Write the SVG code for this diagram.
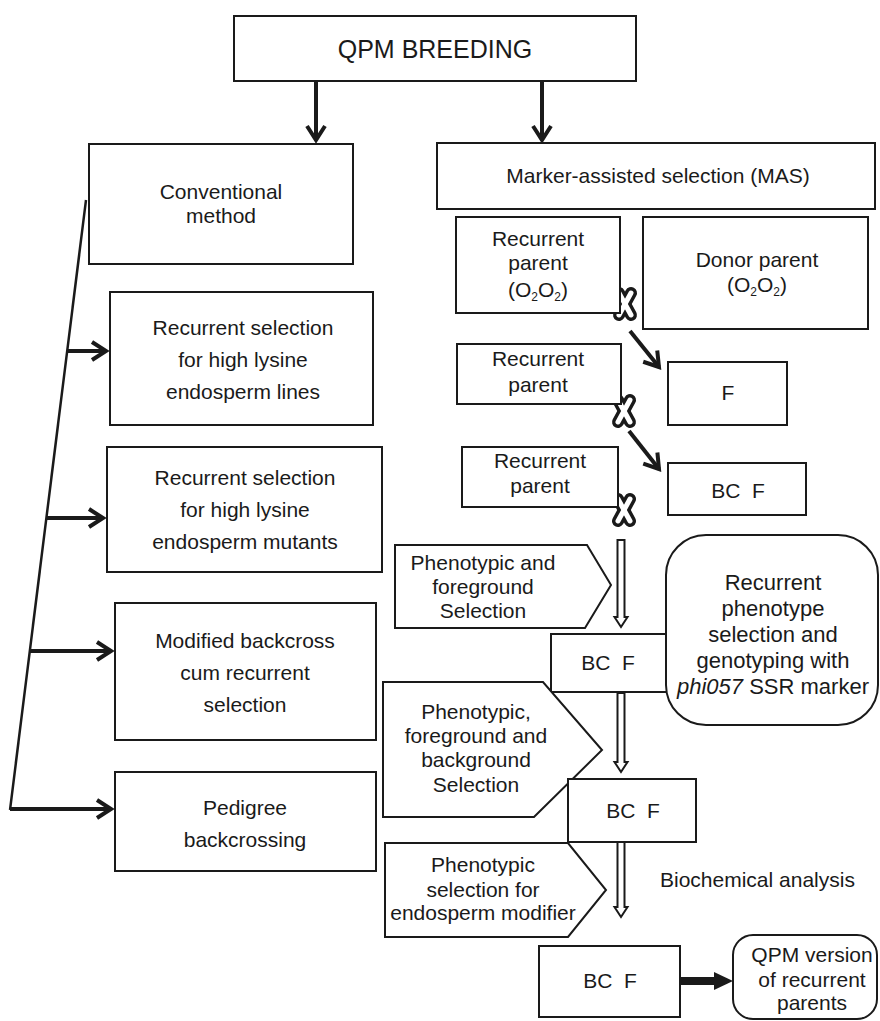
<svg xmlns="http://www.w3.org/2000/svg" width="880" height="1021" viewBox="0 0 880 1021">
<style>
.box{fill:#fff;stroke:#1a1a1a;stroke-width:2}
.t{font-family:"Liberation Sans",Arial,sans-serif;font-size:21px;fill:#1a1a1a;text-anchor:middle}
.sub{font-size:12px}
.arr{stroke:#1a1a1a;stroke-width:4;fill:none}
.thin{stroke:#1a1a1a;stroke-width:2.5;fill:none}
.hollow{fill:#fff;stroke:#1a1a1a;stroke-width:2}
.xo{stroke:#1a1a1a;stroke-width:12;stroke-linecap:round}
.xi{stroke:#fff;stroke-width:5;stroke-linecap:round}
</style>
<defs>
<marker id="chev" markerUnits="userSpaceOnUse" markerWidth="40" markerHeight="40" viewBox="-20 -20 40 40" refX="0" refY="0" orient="auto">
<path d="M-14,-9 L0,0 L-14,9" fill="none" stroke="#1a1a1a" stroke-width="4"/>
</marker>
<g id="cross">
<line class="xo" x1="-6" y1="-11" x2="6" y2="11"/>
<line class="xo" x1="6" y1="-11" x2="-6" y2="11"/>
<line class="xi" x1="-6" y1="-11" x2="6" y2="11"/>
<line class="xi" x1="6" y1="-11" x2="-6" y2="11"/>
</g>
</defs>
<rect width="880" height="1021" fill="#fff"/>

<g id="connectors">
<line class="arr" x1="316" y1="81" x2="316" y2="140" marker-end="url(#chev)"/>
<line class="arr" x1="542" y1="81" x2="542" y2="140" marker-end="url(#chev)"/>
<line class="thin" x1="86" y1="200" x2="10" y2="810"/>
<line class="arr" x1="67" y1="351" x2="106" y2="351" marker-end="url(#chev)"/>
<line class="arr" x1="46" y1="518" x2="103" y2="518" marker-end="url(#chev)"/>
<line class="arr" x1="29" y1="651" x2="111" y2="651" marker-end="url(#chev)"/>
<line class="arr" x1="10" y1="809" x2="111" y2="809" marker-end="url(#chev)"/>
<line class="arr" x1="630" y1="331" x2="659" y2="367" marker-end="url(#chev)"/>
<line class="arr" x1="629" y1="431" x2="659" y2="469" marker-end="url(#chev)"/>
<use href="#cross" x="625" y="304"/>
<use href="#cross" x="624" y="411"/>
<use href="#cross" x="624" y="510"/>
<path class="hollow" d="M617.5,540 L624.5,540 L624.5,617 L627.5,617 L621,627 L614.5,617 L617.5,617 Z"/>
<path class="hollow" d="M617.5,693 L624.5,693 L624.5,762 L627.5,762 L621,772 L614.5,762 L617.5,762 Z"/>
<path class="hollow" d="M617.5,842 L624.5,842 L624.5,907 L627.5,907 L621,917 L614.5,907 L617.5,907 Z"/>
<line stroke="#1a1a1a" stroke-width="8" x1="680" y1="981" x2="717" y2="981"/>
<polygon fill="#1a1a1a" points="714,972 733,981 714,990"/>
</g>

<g id="qpm-breeding">
<rect class="box" x="234" y="16" width="402" height="65"/>
<text class="t" x="435" y="58" style="font-size:25px">QPM BREEDING</text>
</g>

<g id="conventional">
<rect class="box" x="89" y="144" width="264" height="120"/>
<text class="t" x="221" y="199">Conventional</text>
<text class="t" x="221" y="223">method</text>
</g>

<g id="rs-lines">
<rect class="box" x="110" y="292" width="263" height="133"/>
<text class="t" x="243" y="335">Recurrent selection</text>
<text class="t" x="243" y="367">for high lysine</text>
<text class="t" x="243" y="399">endosperm lines</text>
</g>

<g id="rs-mutants">
<rect class="box" x="107" y="447" width="275" height="125"/>
<text class="t" x="245" y="485">Recurrent selection</text>
<text class="t" x="245" y="517">for high lysine</text>
<text class="t" x="245" y="549">endosperm mutants</text>
</g>

<g id="modified-backcross">
<rect class="box" x="115" y="603" width="261" height="137"/>
<text class="t" x="245" y="648">Modified backcross</text>
<text class="t" x="245" y="680">cum recurrent</text>
<text class="t" x="245" y="712">selection</text>
</g>

<g id="pedigree">
<rect class="box" x="115" y="772" width="261" height="99"/>
<text class="t" x="245" y="815">Pedigree</text>
<text class="t" x="245" y="847">backcrossing</text>
</g>

<g id="mas">
<rect class="box" x="437" y="143" width="438" height="66"/>
<text class="t" x="658" y="183">Marker-assisted selection (MAS)</text>
</g>

<g id="recurrent-parent-1">
<rect class="box" x="456" y="217" width="164" height="96"/>
<text class="t" x="538" y="246">Recurrent</text>
<text class="t" x="538" y="270">parent</text>
<text class="t" x="538" y="297">(O<tspan class="sub" dy="4">2</tspan><tspan dy="-4">O</tspan><tspan class="sub" dy="4">2</tspan><tspan dy="-4">)</tspan></text>
</g>

<g id="donor-parent">
<rect class="box" x="643" y="217" width="225" height="112"/>
<text class="t" x="757" y="267">Donor parent</text>
<text class="t" x="757" y="292">(O<tspan class="sub" dy="4">2</tspan><tspan dy="-4">O</tspan><tspan class="sub" dy="4">2</tspan><tspan dy="-4">)</tspan></text>
</g>

<g id="f1">
<rect class="box" x="668" y="362" width="119" height="63"/>
<text class="t" x="728" y="400">F</text>
</g>

<g id="recurrent-parent-2">
<rect class="box" x="457" y="344" width="164" height="60"/>
<text class="t" x="538" y="366">Recurrent</text>
<text class="t" x="538" y="392">parent</text>
</g>

<g id="bcf-1">
<rect class="box" x="668" y="463" width="138" height="52"/>
<text class="t" x="738" y="498" xml:space="preserve">BC  F</text>
</g>

<g id="recurrent-parent-3">
<rect class="box" x="462" y="447" width="156" height="60"/>
<text class="t" x="540" y="468">Recurrent</text>
<text class="t" x="540" y="493">parent</text>
</g>

<g id="sel-1">
<polygon class="box" points="395,545 587,545 611,585 585,628 395,628"/>
<text class="t" x="483" y="570">Phenotypic and</text>
<text class="t" x="483" y="594">foreground</text>
<text class="t" x="483" y="618">Selection</text>
</g>

<g id="bcf-2">
<rect class="box" x="551" y="634" width="116" height="58"/>
<text class="t" x="608" y="670" xml:space="preserve">BC  F</text>
</g>

<g id="recurrent-phenotype">
<rect class="box" x="666" y="535" width="212" height="190" rx="40" ry="40"/>
<text class="t" x="773" y="590" style="font-size:22px">Recurrent</text>
<text class="t" x="773" y="616" style="font-size:22px">phenotype</text>
<text class="t" x="773" y="642" style="font-size:22px">selection and</text>
<text class="t" x="773" y="668" style="font-size:22px">genotyping with</text>
<text class="t" x="773" y="694" style="font-size:22px"><tspan font-style="italic">phi057</tspan> SSR marker</text>
</g>

<g id="sel-2">
<polygon class="box" points="383,682 543,682 602,750 534,817 383,817"/>
<text class="t" x="476" y="719">Phenotypic,</text>
<text class="t" x="476" y="743">foreground and</text>
<text class="t" x="476" y="767">background</text>
<text class="t" x="476" y="792">Selection</text>
</g>

<g id="bcf-3">
<rect class="box" x="568" y="779" width="128" height="63"/>
<text class="t" x="633" y="818" xml:space="preserve">BC  F</text>
</g>

<g id="sel-3">
<polygon class="box" points="385,843 568,843 606,890 568,937 385,937"/>
<text class="t" x="483" y="872">Phenotypic</text>
<text class="t" x="483" y="897">selection for</text>
<text class="t" x="483" y="920">endosperm modifier</text>
</g>

<g id="biochemical">
<text class="t" x="660" y="887" style="text-anchor:start">Biochemical analysis</text>
</g>

<g id="bcf-4">
<rect class="box" x="539" y="946" width="141" height="71"/>
<text class="t" x="610" y="988" xml:space="preserve">BC  F</text>
</g>

<g id="qpm-version">
<rect class="box" x="733" y="935" width="144" height="84" rx="20" ry="20"/>
<text class="t" x="812" y="962">QPM version</text>
<text class="t" x="812" y="987">of recurrent</text>
<text class="t" x="812" y="1010">parents</text>
</g>
</svg>
